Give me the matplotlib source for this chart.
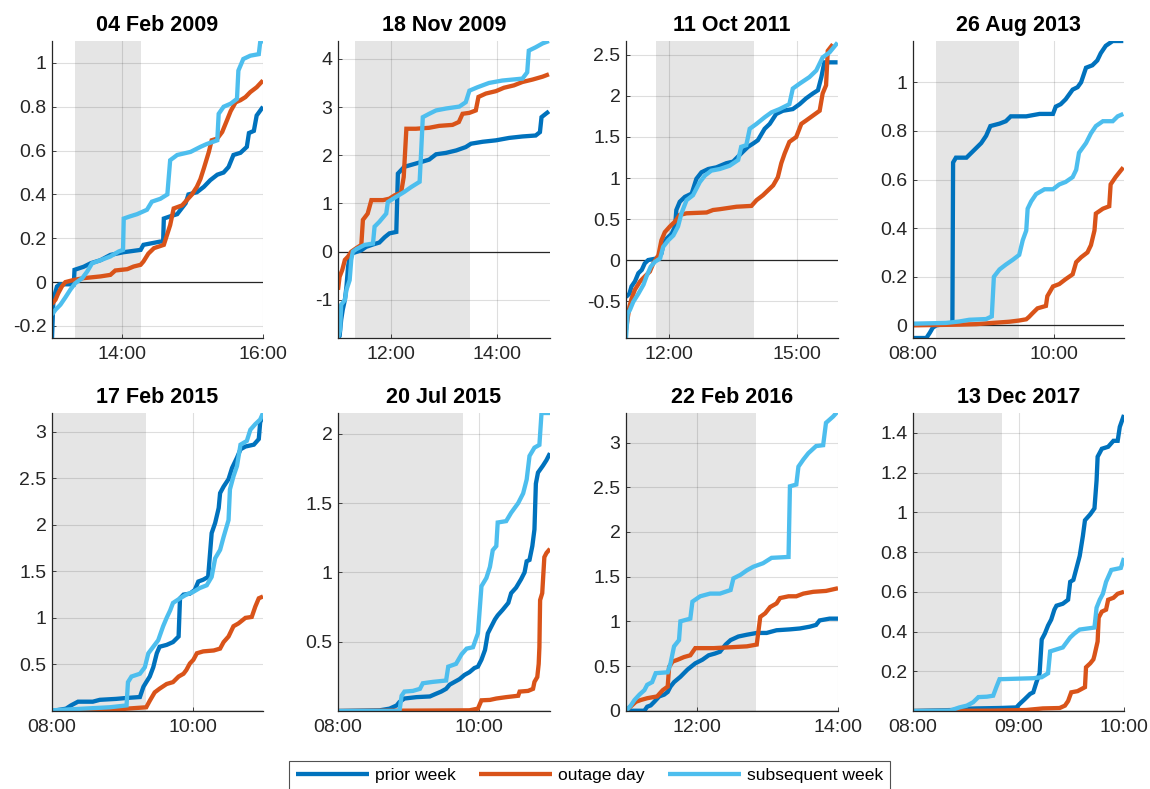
import matplotlib
matplotlib.use('Agg')
import matplotlib.pyplot as plt
from matplotlib.ticker import FuncFormatter, FixedLocator

plt.rcParams['font.family'] = ['Liberation Sans', 'DejaVu Sans']

# ---------------- data ----------------
titles = ['04 Feb 2009', '18 Nov 2009', '11 Oct 2011', '26 Aug 2013',
          '17 Feb 2015', '20 Jul 2015', '22 Feb 2016', '13 Dec 2017']
series_names = ['prior week', 'outage day', 'subsequent week']
series_colors = ['#0072BD', '#D95319', '#4DBEEE']

# times in decimal hours of day, values cumulative
p1_prior_t = [13.00, 13.02, 13.07, 13.11, 13.31, 13.32, 13.45, 13.55, 13.69, 13.83, 14.01, 14.26, 14.30, 14.54, 14.58, 14.59, 14.68, 14.78, 14.90, 14.94, 15.06, 15.16, 15.25, 15.35, 15.44, 15.51, 15.58, 15.68, 15.77, 15.80, 15.87, 15.91, 16.00]
p1_prior_v = [-0.255, -0.08, -0.02, -0.01, -0.01, 0.056, 0.07, 0.086, 0.10, 0.124, 0.136, 0.147, 0.17, 0.185, 0.185, 0.29, 0.30, 0.31, 0.36, 0.40, 0.41, 0.435, 0.465, 0.49, 0.50, 0.525, 0.58, 0.59, 0.617, 0.68, 0.69, 0.76, 0.80]
p1_outage_t = [13.00, 13.05, 13.09, 13.14, 13.19, 13.31, 13.45, 13.69, 13.83, 13.90, 14.07, 14.16, 14.26, 14.30, 14.37, 14.45, 14.59, 14.64, 14.68, 14.73, 14.85, 14.92, 14.99, 15.06, 15.11, 15.16, 15.23, 15.27, 15.35, 15.42, 15.49, 15.54, 15.61, 15.68, 15.75, 15.82, 15.91, 16.00]
p1_outage_v = [-0.10, -0.08, -0.05, -0.02, 0.0, 0.01, 0.018, 0.026, 0.033, 0.053, 0.059, 0.071, 0.079, 0.094, 0.13, 0.155, 0.17, 0.22, 0.26, 0.336, 0.35, 0.375, 0.40, 0.435, 0.47, 0.52, 0.594, 0.647, 0.655, 0.685, 0.74, 0.78, 0.82, 0.83, 0.844, 0.867, 0.889, 0.92]
p1_subseq_t = [13.00, 13.05, 13.12, 13.19, 13.26, 13.33, 13.43, 13.50, 13.57, 13.69, 13.83, 13.95, 14.01, 14.02, 14.11, 14.21, 14.35, 14.42, 14.54, 14.64, 14.68, 14.78, 14.97, 15.11, 15.20, 15.35, 15.37, 15.44, 15.54, 15.63, 15.65, 15.72, 15.82, 15.94, 15.96, 16.00]
p1_subseq_v = [-0.148, -0.126, -0.103, -0.07, -0.035, -0.005, 0.018, 0.048, 0.086, 0.10, 0.117, 0.14, 0.147, 0.29, 0.30, 0.31, 0.33, 0.367, 0.38, 0.40, 0.556, 0.58, 0.594, 0.617, 0.63, 0.647, 0.768, 0.80, 0.814, 0.836, 0.965, 1.018, 1.033, 1.04, 1.094, 1.10]

p2_prior_t = [11.00, 11.03, 11.06, 11.09, 11.13, 11.16, 11.19, 11.22, 11.28, 11.44, 11.53, 11.66, 11.78, 11.88, 11.97, 12.10, 12.13, 12.25, 12.41, 12.57, 12.72, 12.85, 13.04, 13.23, 13.41, 13.51, 13.73, 13.98, 14.23, 14.48, 14.73, 14.81, 14.84, 14.92, 14.98]
p2_prior_v = [-1.79, -1.75, -1.41, -1.2, -1.0, -0.72, -0.31, -0.10, -0.03, 0.03, 0.10, 0.15, 0.19, 0.30, 0.38, 0.41, 1.62, 1.76, 1.81, 1.86, 1.91, 2.02, 2.05, 2.10, 2.17, 2.24, 2.28, 2.31, 2.36, 2.39, 2.41, 2.48, 2.79, 2.86, 2.91]
p2_outage_t = [11.00, 11.03, 11.08, 11.13, 11.19, 11.25, 11.34, 11.44, 11.47, 11.56, 11.63, 11.85, 11.97, 12.07, 12.19, 12.24, 12.29, 12.47, 12.72, 12.91, 13.16, 13.28, 13.35, 13.48, 13.60, 13.65, 13.79, 13.98, 14.13, 14.32, 14.48, 14.67, 14.86, 14.98]
p2_outage_v = [-0.79, -0.52, -0.38, -0.17, -0.10, 0.0, 0.07, 0.14, 0.66, 0.79, 1.07, 1.07, 1.10, 1.17, 1.22, 1.55, 2.55, 2.55, 2.57, 2.61, 2.63, 2.69, 2.86, 2.88, 2.93, 3.21, 3.28, 3.33, 3.40, 3.45, 3.52, 3.57, 3.63, 3.68]
p2_subseq_t = [11.00, 11.04, 11.06, 11.13, 11.16, 11.22, 11.25, 11.28, 11.34, 11.50, 11.66, 11.69, 11.78, 11.91, 11.94, 12.10, 12.25, 12.38, 12.54, 12.57, 12.60, 12.72, 12.85, 13.04, 13.29, 13.41, 13.48, 13.63, 13.85, 14.10, 14.48, 14.57, 14.60, 14.73, 14.86, 14.98]
p2_subseq_v = [-1.79, -1.62, -1.10, -1.0, -0.79, -0.59, -0.17, 0.0, 0.05, 0.14, 0.17, 0.52, 0.62, 0.79, 1.03, 1.14, 1.24, 1.34, 1.45, 2.10, 2.79, 2.86, 2.93, 2.97, 3.01, 3.10, 3.34, 3.41, 3.50, 3.55, 3.59, 3.72, 4.17, 4.24, 4.32, 4.37]

p3_prior_t = [11.00, 11.08, 11.13, 11.21, 11.29, 11.37, 11.44, 11.52, 11.72, 11.83, 11.87, 11.95, 12.07, 12.15, 12.18, 12.26, 12.38, 12.54, 12.65, 12.77, 12.93, 13.12, 13.35, 13.51, 13.74, 13.86, 13.98, 14.09, 14.25, 14.37, 14.52, 14.68, 14.91, 15.07, 15.22, 15.38, 15.50, 15.58, 15.65, 15.96]
p3_prior_v = [-0.45, -0.41, -0.32, -0.26, -0.16, -0.12, -0.04, 0.0, 0.02, 0.08, 0.18, 0.26, 0.32, 0.41, 0.61, 0.71, 0.77, 0.81, 0.99, 1.07, 1.11, 1.13, 1.18, 1.20, 1.32, 1.38, 1.42, 1.46, 1.60, 1.66, 1.78, 1.82, 1.84, 1.90, 1.97, 2.03, 2.07, 2.23, 2.41, 2.41]
p3_outage_t = [11.00, 11.08, 11.13, 11.21, 11.33, 11.44, 11.56, 11.64, 11.76, 11.83, 11.91, 12.03, 12.15, 12.26, 12.42, 12.89, 13.04, 13.20, 13.59, 13.94, 14.06, 14.21, 14.33, 14.45, 14.56, 14.64, 14.72, 14.83, 14.99, 15.11, 15.22, 15.38, 15.54, 15.61, 15.69, 15.73, 15.85]
p3_outage_v = [-0.85, -0.57, -0.47, -0.36, -0.26, -0.20, -0.14, -0.04, 0.06, 0.24, 0.34, 0.41, 0.47, 0.55, 0.57, 0.58, 0.61, 0.62, 0.65, 0.66, 0.73, 0.79, 0.85, 0.91, 1.01, 1.18, 1.30, 1.44, 1.50, 1.66, 1.70, 1.76, 1.82, 2.03, 2.13, 2.55, 2.63]
p3_subseq_t = [11.00, 11.04, 11.09, 11.17, 11.29, 11.41, 11.48, 11.58, 11.68, 11.80, 11.87, 11.99, 12.11, 12.22, 12.30, 12.42, 12.57, 12.73, 12.85, 13.00, 13.20, 13.43, 13.63, 13.70, 13.82, 13.90, 14.06, 14.25, 14.41, 14.60, 14.83, 14.91, 15.07, 15.30, 15.46, 15.61, 15.77, 15.96]
p3_subseq_v = [-0.95, -0.65, -0.61, -0.51, -0.41, -0.30, -0.20, -0.08, -0.02, 0.02, 0.16, 0.24, 0.30, 0.41, 0.57, 0.73, 0.79, 0.95, 1.03, 1.09, 1.11, 1.15, 1.22, 1.38, 1.40, 1.60, 1.66, 1.74, 1.80, 1.84, 1.90, 2.09, 2.15, 2.23, 2.31, 2.47, 2.53, 2.65]

p4_prior_t = [8.00, 8.19, 8.24, 8.28, 8.33, 8.56, 8.57, 8.61, 8.76, 8.83, 8.90, 8.97, 9.04, 9.10, 9.23, 9.32, 9.39, 9.61, 9.80, 9.99, 10.03, 10.10, 10.17, 10.22, 10.27, 10.34, 10.39, 10.46, 10.55, 10.62, 10.67, 10.74, 10.84, 10.99]
p4_prior_v = [-0.052, -0.052, -0.03, -0.01, 0.0, 0.01, 0.67, 0.69, 0.69, 0.71, 0.73, 0.75, 0.78, 0.82, 0.83, 0.84, 0.86, 0.86, 0.87, 0.87, 0.90, 0.91, 0.93, 0.95, 0.97, 0.98, 1.0, 1.06, 1.07, 1.09, 1.12, 1.15, 1.17, 1.17]
p4_outage_t = [8.00, 8.66, 8.90, 9.13, 9.37, 9.51, 9.61, 9.65, 9.70, 9.77, 9.89, 9.91, 9.99, 10.08, 10.17, 10.27, 10.32, 10.39, 10.48, 10.53, 10.58, 10.60, 10.70, 10.79, 10.81, 10.88, 10.99]
p4_outage_v = [0.0, 0.003, 0.005, 0.01, 0.015, 0.02, 0.025, 0.035, 0.05, 0.07, 0.08, 0.12, 0.16, 0.17, 0.19, 0.21, 0.26, 0.28, 0.30, 0.33, 0.39, 0.46, 0.48, 0.49, 0.58, 0.61, 0.65]
p4_subseq_t = [8.00, 8.47, 8.66, 8.80, 9.04, 9.12, 9.15, 9.23, 9.32, 9.42, 9.51, 9.56, 9.61, 9.63, 9.68, 9.75, 9.87, 9.99, 10.08, 10.17, 10.27, 10.32, 10.36, 10.46, 10.53, 10.60, 10.70, 10.84, 10.91, 10.99]
p4_subseq_v = [0.007, 0.01, 0.016, 0.023, 0.026, 0.037, 0.20, 0.23, 0.25, 0.27, 0.29, 0.35, 0.39, 0.48, 0.51, 0.54, 0.56, 0.56, 0.58, 0.59, 0.61, 0.64, 0.71, 0.75, 0.79, 0.82, 0.84, 0.84, 0.86, 0.87]

p5_prior_t = [8.00, 8.20, 8.27, 8.37, 8.58, 8.68, 8.91, 9.06, 9.25, 9.30, 9.34, 9.39, 9.44, 9.49, 9.53, 9.63, 9.72, 9.80, 9.82, 9.87, 9.96, 10.03, 10.08, 10.15, 10.22, 10.27, 10.32, 10.37, 10.39, 10.44, 10.51, 10.56, 10.63, 10.68, 10.75, 10.87, 10.94, 10.96, 11.00]
p5_prior_v = [0.0, 0.025, 0.06, 0.10, 0.10, 0.12, 0.13, 0.14, 0.15, 0.26, 0.31, 0.37, 0.47, 0.62, 0.69, 0.71, 0.74, 0.80, 1.21, 1.25, 1.26, 1.30, 1.39, 1.41, 1.44, 1.91, 2.02, 2.18, 2.34, 2.41, 2.49, 2.61, 2.72, 2.81, 2.84, 2.86, 2.92, 3.10, 3.17]
p5_outage_t = [8.00, 8.82, 9.06, 9.34, 9.39, 9.46, 9.53, 9.63, 9.72, 9.80, 9.87, 9.91, 9.96, 10.01, 10.06, 10.15, 10.30, 10.39, 10.44, 10.51, 10.58, 10.65, 10.75, 10.84, 10.89, 10.94, 11.00]
p5_outage_v = [0.0, 0.005, 0.025, 0.04, 0.11, 0.20, 0.24, 0.29, 0.31, 0.37, 0.40, 0.44, 0.51, 0.55, 0.62, 0.64, 0.65, 0.67, 0.74, 0.80, 0.91, 0.94, 1.0, 1.01, 1.12, 1.21, 1.23]
p5_subseq_t = [8.00, 8.44, 8.82, 9.06, 9.08, 9.13, 9.25, 9.32, 9.37, 9.44, 9.51, 9.58, 9.63, 9.68, 9.72, 9.82, 9.91, 10.01, 10.10, 10.20, 10.27, 10.32, 10.39, 10.44, 10.51, 10.53, 10.58, 10.63, 10.68, 10.77, 10.82, 10.89, 10.96, 11.00]
p5_subseq_v = [0.007, 0.025, 0.04, 0.06, 0.31, 0.37, 0.40, 0.47, 0.62, 0.69, 0.76, 0.91, 1.0, 1.08, 1.16, 1.21, 1.25, 1.28, 1.32, 1.35, 1.44, 1.64, 1.73, 1.87, 2.05, 2.38, 2.52, 2.63, 2.86, 2.90, 3.02, 3.08, 3.13, 3.20]

p6_prior_t = [8.00, 8.59, 8.73, 8.83, 8.87, 8.94, 9.11, 9.30, 9.39, 9.46, 9.53, 9.58, 9.65, 9.72, 9.79, 9.86, 9.93, 9.98, 10.03, 10.08, 10.12, 10.17, 10.22, 10.26, 10.33, 10.41, 10.45, 10.52, 10.59, 10.64, 10.67, 10.71, 10.75, 10.78, 10.80, 10.83, 10.90, 10.95, 11.00]
p6_prior_v = [0.0, 0.005, 0.017, 0.04, 0.065, 0.09, 0.10, 0.105, 0.125, 0.14, 0.16, 0.19, 0.21, 0.23, 0.26, 0.28, 0.31, 0.32, 0.37, 0.44, 0.56, 0.61, 0.66, 0.69, 0.73, 0.78, 0.85, 0.89, 0.95, 1.0, 1.08, 1.09, 1.19, 1.31, 1.64, 1.72, 1.77, 1.81, 1.86]
p6_outage_t = [8.00, 9.86, 9.98, 10.03, 10.15, 10.24, 10.38, 10.55, 10.57, 10.69, 10.76, 10.78, 10.82, 10.84, 10.85, 10.86, 10.89, 10.92, 10.95, 11.00]
p6_outage_v = [0.0, 0.005, 0.017, 0.077, 0.08, 0.09, 0.10, 0.11, 0.14, 0.145, 0.16, 0.21, 0.245, 0.34, 0.46, 0.80, 0.85, 1.11, 1.14, 1.17]
p6_subseq_t = [8.00, 8.87, 8.90, 8.94, 9.06, 9.16, 9.20, 9.34, 9.53, 9.56, 9.67, 9.75, 9.82, 9.91, 9.98, 10.03, 10.10, 10.15, 10.19, 10.24, 10.26, 10.38, 10.45, 10.55, 10.62, 10.67, 10.71, 10.78, 10.85, 10.88, 11.00]
p6_subseq_v = [0.0, 0.0, 0.11, 0.14, 0.145, 0.16, 0.20, 0.21, 0.22, 0.32, 0.34, 0.41, 0.45, 0.46, 0.56, 0.90, 0.96, 1.04, 1.16, 1.19, 1.36, 1.37, 1.43, 1.50, 1.57, 1.67, 1.84, 1.90, 1.92, 2.15, 2.15]

p7_prior_t = [11.00, 11.26, 11.30, 11.35, 11.40, 11.47, 11.54, 11.59, 11.63, 11.68, 11.77, 11.87, 11.98, 12.08, 12.17, 12.26, 12.33, 12.41, 12.48, 12.59, 12.71, 12.85, 12.99, 13.13, 13.32, 13.46, 13.60, 13.69, 13.74, 13.88, 14.00]
p7_prior_v = [0.0, 0.0, 0.045, 0.06, 0.10, 0.16, 0.18, 0.21, 0.27, 0.32, 0.38, 0.46, 0.53, 0.57, 0.62, 0.64, 0.66, 0.74, 0.79, 0.83, 0.85, 0.87, 0.87, 0.90, 0.91, 0.92, 0.94, 0.96, 1.01, 1.03, 1.03]
p7_outage_t = [11.00, 11.07, 11.14, 11.21, 11.30, 11.44, 11.52, 11.59, 11.61, 11.66, 11.73, 11.82, 11.91, 11.98, 12.24, 12.48, 12.71, 12.85, 12.90, 12.97, 13.04, 13.13, 13.18, 13.30, 13.41, 13.51, 13.65, 13.83, 14.00]
p7_outage_v = [0.007, 0.05, 0.10, 0.12, 0.14, 0.16, 0.23, 0.27, 0.49, 0.55, 0.57, 0.60, 0.62, 0.70, 0.70, 0.71, 0.72, 0.74, 1.05, 1.09, 1.16, 1.20, 1.26, 1.28, 1.28, 1.31, 1.33, 1.34, 1.37]
p7_subseq_t = [11.00, 11.07, 11.12, 11.19, 11.26, 11.30, 11.37, 11.42, 11.59, 11.63, 11.68, 11.75, 11.77, 11.91, 11.94, 12.05, 12.19, 12.33, 12.48, 12.52, 12.62, 12.71, 12.80, 12.94, 13.06, 13.30, 13.32, 13.41, 13.44, 13.51, 13.58, 13.69, 13.79, 13.83, 13.93, 14.00]
p7_subseq_v = [0.0, 0.06, 0.12, 0.18, 0.23, 0.29, 0.32, 0.42, 0.43, 0.53, 0.72, 0.79, 1.0, 1.03, 1.22, 1.28, 1.31, 1.31, 1.35, 1.48, 1.52, 1.57, 1.61, 1.65, 1.71, 1.72, 2.51, 2.53, 2.73, 2.81, 2.88, 2.96, 2.97, 3.22, 3.29, 3.35]

p8_prior_t = [8.00, 8.38, 8.44, 8.60, 8.82, 8.98, 9.01, 9.06, 9.11, 9.14, 9.17, 9.20, 9.22, 9.25, 9.28, 9.31, 9.34, 9.36, 9.42, 9.47, 9.49, 9.52, 9.55, 9.58, 9.61, 9.63, 9.68, 9.72, 9.74, 9.75, 9.79, 9.85, 9.90, 9.94, 9.96, 10.00]
p8_prior_v = [0.0, 0.005, 0.01, 0.013, 0.015, 0.018, 0.035, 0.06, 0.086, 0.094, 0.145, 0.19, 0.36, 0.39, 0.43, 0.46, 0.51, 0.53, 0.54, 0.56, 0.65, 0.66, 0.72, 0.78, 0.88, 0.96, 0.99, 1.02, 1.16, 1.28, 1.32, 1.33, 1.36, 1.36, 1.43, 1.49]
p8_outage_t = [8.00, 8.76, 9.07, 9.17, 9.23, 9.39, 9.44, 9.47, 9.50, 9.56, 9.63, 9.64, 9.68, 9.71, 9.72, 9.75, 9.76, 9.79, 9.83, 9.85, 9.90, 9.94, 10.00]
p8_outage_v = [0.0, 0.002, 0.005, 0.01, 0.013, 0.015, 0.027, 0.05, 0.094, 0.10, 0.12, 0.22, 0.24, 0.26, 0.28, 0.35, 0.47, 0.50, 0.51, 0.56, 0.57, 0.59, 0.60]
p8_subseq_t = [8.00, 8.35, 8.44, 8.51, 8.57, 8.62, 8.70, 8.76, 8.79, 8.82, 9.14, 9.22, 9.28, 9.30, 9.36, 9.42, 9.49, 9.53, 9.58, 9.72, 9.74, 9.77, 9.80, 9.83, 9.88, 9.97, 10.00]
p8_subseq_v = [0.0, 0.002, 0.018, 0.027, 0.044, 0.07, 0.072, 0.077, 0.12, 0.16, 0.165, 0.17, 0.19, 0.30, 0.31, 0.32, 0.37, 0.39, 0.41, 0.42, 0.52, 0.56, 0.59, 0.65, 0.71, 0.72, 0.77]

# outage windows (shaded), decimal hours
shade_start = [13.32, 11.32, 11.70, 8.33, 8.00, 8.00, 11.00, 8.00]
shade_end = [14.27, 13.49, 14.00, 9.50, 9.33, 9.77, 12.84, 8.84]

x_limits = [(13.0, 16.0), (11.0, 15.0), (11.0, 15.97), (8.0, 11.0),
            (8.0, 11.0), (8.0, 11.0), (11.0, 14.0), (8.0, 10.0)]
y_limits = [(-0.255, 1.10), (-1.79, 4.37), (-0.95, 2.67), (-0.052, 1.17),
            (0.0, 3.20), (0.0, 2.15), (-0.003, 3.33), (0.0, 1.50)]
x_ticks = [[14, 16], [12, 14], [12, 15], [8, 10], [8, 10], [8, 10], [12, 14], [8, 9, 10]]
y_ticks = [[-0.2, 0, 0.2, 0.4, 0.6, 0.8, 1.0],
           [-1, 0, 1, 2, 3, 4],
           [-0.5, 0, 0.5, 1, 1.5, 2, 2.5],
           [0, 0.2, 0.4, 0.6, 0.8, 1.0],
           [0.5, 1, 1.5, 2, 2.5, 3],
           [0.5, 1, 1.5, 2],
           [0, 0.5, 1, 1.5, 2, 2.5, 3],
           [0.2, 0.4, 0.6, 0.8, 1.0, 1.2, 1.4]]

panels = [
    [(p1_prior_t, p1_prior_v), (p1_outage_t, p1_outage_v), (p1_subseq_t, p1_subseq_v)],
    [(p2_prior_t, p2_prior_v), (p2_outage_t, p2_outage_v), (p2_subseq_t, p2_subseq_v)],
    [(p3_prior_t, p3_prior_v), (p3_outage_t, p3_outage_v), (p3_subseq_t, p3_subseq_v)],
    [(p4_prior_t, p4_prior_v), (p4_outage_t, p4_outage_v), (p4_subseq_t, p4_subseq_v)],
    [(p5_prior_t, p5_prior_v), (p5_outage_t, p5_outage_v), (p5_subseq_t, p5_subseq_v)],
    [(p6_prior_t, p6_prior_v), (p6_outage_t, p6_outage_v), (p6_subseq_t, p6_subseq_v)],
    [(p7_prior_t, p7_prior_v), (p7_outage_t, p7_outage_v), (p7_subseq_t, p7_subseq_v)],
    [(p8_prior_t, p8_prior_v), (p8_outage_t, p8_outage_v), (p8_subseq_t, p8_subseq_v)],
]

# ---------------- layout ----------------
W, H = 1150, 789
fig = plt.figure(figsize=(W / 100, H / 100), dpi=100)

col_left = [52, 338, 626, 913]
col_right = [263, 550, 838, 1124]
row_top = [41, 413]
row_bottom = [338, 711]

axis_color = '#262626'


def fmt_time(h, pos=None):
    hh = int(h)
    mm = int(round((h - hh) * 60))
    return f'{hh:02d}:{mm:02d}'


def fmt_val(v, pos=None):
    return f'{round(v, 3):g}'


lines_for_legend = None
for i in range(8):
    r, c = divmod(i, 4)
    l = col_left[c] / W
    w = (col_right[c] - col_left[c]) / W
    b = 1 - row_bottom[r] / H
    h = (row_bottom[r] - row_top[r]) / H
    ax = fig.add_axes([l, b, w, h])

    ax.axvspan(shade_start[i], shade_end[i], color='#e5e5e5', lw=0, zorder=0.1)
    ax.axhline(0, color=axis_color, lw=0.9, zorder=1.5)

    handles = []
    for (t, v), col, name in zip(panels[i], series_colors, series_names):
        ln, = ax.plot(t, v, color=col, lw=3.1, label=name, zorder=2,
                      solid_joinstyle='miter', solid_capstyle='butt')
        handles.append(ln)
    if lines_for_legend is None:
        lines_for_legend = handles

    ax.set_xlim(*x_limits[i])
    ax.set_ylim(*y_limits[i])
    ax.xaxis.set_major_locator(FixedLocator(x_ticks[i]))
    ax.yaxis.set_major_locator(FixedLocator(y_ticks[i]))
    ax.xaxis.set_major_formatter(FuncFormatter(fmt_time))
    ax.yaxis.set_major_formatter(FuncFormatter(fmt_val))

    ax.set_axisbelow(True)
    ax.grid(True, color=axis_color, alpha=0.15, lw=0.8)
    for side in ['top', 'right']:
        ax.spines[side].set_visible(False)
    for side in ['left', 'bottom']:
        ax.spines[side].set_color(axis_color)
        ax.spines[side].set_linewidth(0.9)
        ax.spines[side].set_zorder(3)
    ax.tick_params(direction='in', length=3, width=0.6, colors=axis_color,
                   labelsize=14, labelcolor=axis_color)
    ax.tick_params(axis='x', pad=6)
    ax.tick_params(axis='y', pad=4)
    ax.set_title(titles[i], fontsize=15.5, fontweight='bold', pad=7, color='black')

leg = fig.legend(lines_for_legend, series_names, loc='upper center',
                 bbox_to_anchor=(589.5 / W, 1 - 761 / H), ncol=3, fontsize=12.6,
                 frameon=True, fancybox=False, handlelength=4.2,
                 handletextpad=0.34, columnspacing=1.3, borderpad=0.4,
                 borderaxespad=0)
leg.get_frame().set_edgecolor(axis_color)
leg.get_frame().set_linewidth(0.8)
for lh in leg.get_lines():
    lh.set_linewidth(3.1)

fig.savefig('out.png', dpi=100)
